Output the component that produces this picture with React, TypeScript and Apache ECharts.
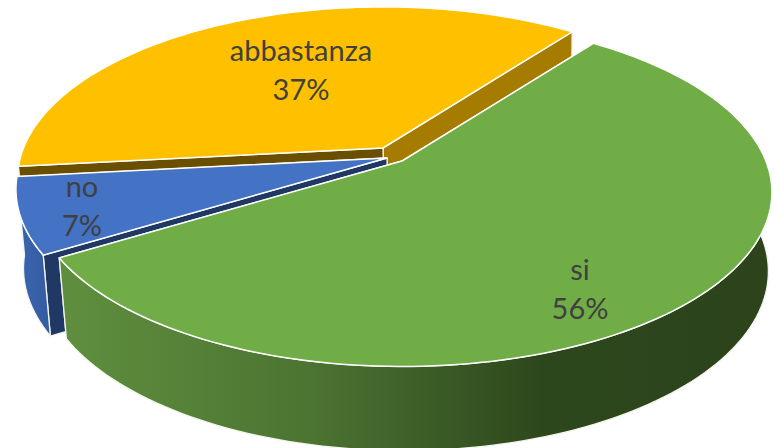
import React, { useEffect, useRef } from "react";
import * as echarts from "echarts";

const categories = ["si", "no", "abbastanza"];
const values = [56, 7, 37];
const topColors = ["#70ad47", "#4472c4", "#ffc000"];
const startWallColors = ["#a67c00", "#1f3864", "#6b4f00"];
const endWallColors = ["#1f3864", "#1f3864", "#a67c00"];
const drawOrder = [3, 2, 1];
const apexes = [[402, 161], [387, 158], [383, 148]];
const radiusScales = [0.997, 1, 0.985];
const outerWallShown = [true, true, false];
const labelCenters = [[580, 288], [82, 205], [301, 69]];
const sideStops = [
  [[0, "#5f8f3e"], [0.35, "#4c7432"], [0.68, "#2d471c"], [1, "#2c431b"]],
  [[0, "#3a66b2"], [1, "#345a9e"]],
  [[0, "#a67c00"], [1, "#a67c00"]],
];
const sideRanges = [[60, 770], [15, 55], [15, 580]];

const START = 37, A = 365, B = 169, K = 0.18;
const SX = 0.985, SY = 1.03, DY = 78, DX = 2;
const total = values.reduce((s, v) => s + v, 0);

function top(ax: number, ay: number, deg: number, r: number) {
  const t = (deg * Math.PI) / 180;
  const u = Math.sin(t), v = -Math.cos(t), w = 1 - K * v;
  return [ax + (r * A * u) / w, ay + (r * B * v) / w];
}
function bottom(ax: number, ay: number, deg: number, r: number) {
  const p = top(ax, ay, deg, r);
  return [ax + DX + (p[0] - ax) * SX, ay + DY + (p[1] - ay) * SY];
}
function arc(f: typeof top, ax: number, ay: number, a0: number, a1: number, r: number) {
  const pts: number[][] = [];
  const n = Math.max(2, Math.ceil(Math.abs(a1 - a0) / 1.5));
  for (let i = 0; i <= n; i++) pts.push(f(ax, ay, a0 + ((a1 - a0) * i) / n, r));
  return pts;
}

function sliceSeries(index: number) {
  const before = values.slice(0, index).reduce((s, v) => s + v, 0);
  return {
    type: "custom",
    coordinateSystem: "none",
    z: drawOrder[index],
    silent: true,
    data: [[values[index]]],
    renderItem: (_p: any, api: any) => {
      const value = api.value(0);
      const a0 = START + (before / total) * 360;
      const a1 = a0 + (value / total) * 360;
      const [ax, ay] = apexes[index];
      const r = radiusScales[index];
      const edge = { stroke: "#f4f4ee", lineWidth: 1.3, lineJoin: "round" };
      const apexLow = [ax + DX, ay + DY];
      const poly = (points: number[][], fill: any, style: any = edge) => ({
        type: "polygon",
        shape: { points },
        style: { fill, ...style },
      });
      const [x0, x1] = sideRanges[index];
      const sideFill = new echarts.graphic.LinearGradient(
        x0, 0, x1, 0,
        sideStops[index].map(([offset, color]) => ({ offset: offset as number, color: color as string })),
        true
      );
      const topArc = arc(top, ax, ay, a0, a1, r);
      const botArc = arc(bottom, ax, ay, a0, a1, r);
      const label = `${categories[index]}\n${Math.round((value / total) * 100)}%`;
      const children: any[] = [
        poly([[ax, ay], topArc[topArc.length - 1], botArc[botArc.length - 1], apexLow], endWallColors[index]),
        poly([[ax, ay], topArc[0], botArc[0], apexLow], startWallColors[index]),
      ];
      if (outerWallShown[index]) children.push(poly([...topArc, ...botArc.slice().reverse()], sideFill));
      children.push(poly([[ax, ay], ...topArc], topColors[index], { ...edge, lineWidth: 1.5, stroke: "#ffffff" }));
      children.push({
        type: "text",
        x: labelCenters[index][0],
        y: labelCenters[index][1],
        style: {
          text: label,
          fill: "#404040",
          font: "29px Lato",
          lineHeight: 39,
          align: "center",
          verticalAlign: "middle",
        },
      });
      return { type: "group", children };
    },
  };
}

export default function App() {
  const ref = useRef<HTMLDivElement>(null);
  useEffect(() => {
    document.body.style.margin = "0";
    document.body.style.background = "#ffffff";
    const chart = echarts.init(ref.current!, undefined, { renderer: "svg" });
    chart.setOption({
      animation: false,
      backgroundColor: "#ffffff",
      series: categories.map((_, i) => sliceSeries(i)),
    });
    return () => chart.dispose();
  }, []);
  return <div ref={ref} style={{ width: 774, height: 448, overflow: "hidden" }} />;
}
